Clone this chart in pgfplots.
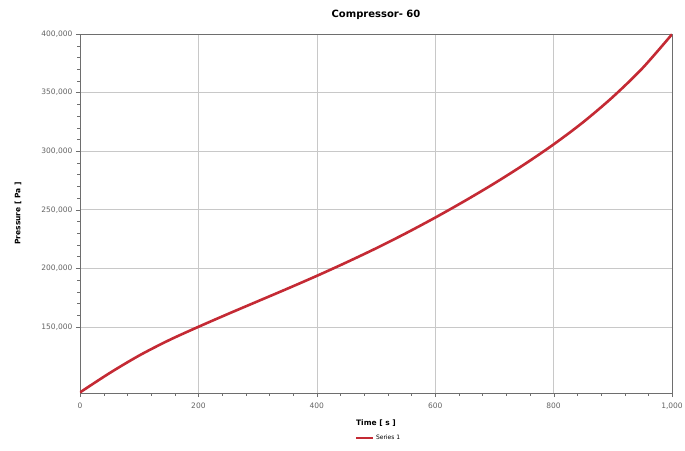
\documentclass[border=0pt]{standalone}
\usepackage{pgfplots}
\pgfplotsset{compat=1.18}
\usepackage{fontspec}
\setmainfont{DejaVu Sans}
\definecolor{curve}{RGB}{196,42,52}
\definecolor{gridc}{RGB}{200,200,200}
\definecolor{axc}{RGB}{110,110,110}
\definecolor{tickc}{RGB}{100,100,100}
\begin{document}
\begin{tikzpicture}
\useasboundingbox (-80pt,-57pt) rectangle (605pt,393pt);
\begin{axis}[
  at={(0pt,0pt)}, anchor=south west,
  scale only axis,
  width=592pt, height=359pt,
  xmin=0, xmax=1000, ymin=93500, ymax=400000,
  xtick={0,200,400,600,800,1000},
  xticklabels={0,200,400,600,800,{1,000}},
  ytick={150000,200000,250000,300000,350000,400000},
  yticklabels={{150,000},{200,000},{250,000},{300,000},{350,000},{400,000}},
  minor x tick num=4,
  minor y tick num=4,
  grid=major,
  major grid style={gridc, line width=0.6pt},
  axis line style={axc, line width=0.9pt},
  tick style={axc},
  major tick length=4pt, minor tick length=2.5pt,
  tick align=outside,
  xtick pos=bottom, ytick pos=left,
  scaled ticks=false,
  tick label style={font=\fontsize{7.5}{8}\selectfont, text=tickc},
  xticklabel style={yshift=-2pt},
  title={\textbf{Compressor- 60}},
  title style={font=\fontsize{10}{11}\selectfont, at={(axis description cs:0.5,1)}, yshift=5pt},
  xlabel={\textbf{Time [ s ]}},
  ylabel={\textbf{Pressure [ Pa ]}},
  xlabel style={font=\fontsize{7.5}{8}\selectfont, at={([yshift=-30pt]axis description cs:0.5,0)}, anchor=center},
  ylabel style={font=\fontsize{7.5}{8}\selectfont, at={([xshift=-62pt]axis description cs:0,0.5)}, anchor=center, rotate=0},
  legend style={at={([yshift=-45pt]axis description cs:0.505,0)}, anchor=center, draw=none, font=\fontsize{6}{7}\selectfont, fill=none},
  legend image post style={line width=1.2pt},
  legend cell align=left,
]
\addplot[curve, line width=2.6pt, smooth] coordinates {
(0,94000) (50,110500) (100,125500) (150,138500) (200,150000)
(250,161000) (300,171750) (350,182500) (400,193500) (450,205000)
(500,217000) (550,229750) (600,243250) (650,257500) (700,272500)
(750,288500) (800,305750) (850,324750) (900,346250) (950,370750) (1000,399750)
};
\addlegendentry{Series 1}
\end{axis}
\end{tikzpicture}
\end{document}
